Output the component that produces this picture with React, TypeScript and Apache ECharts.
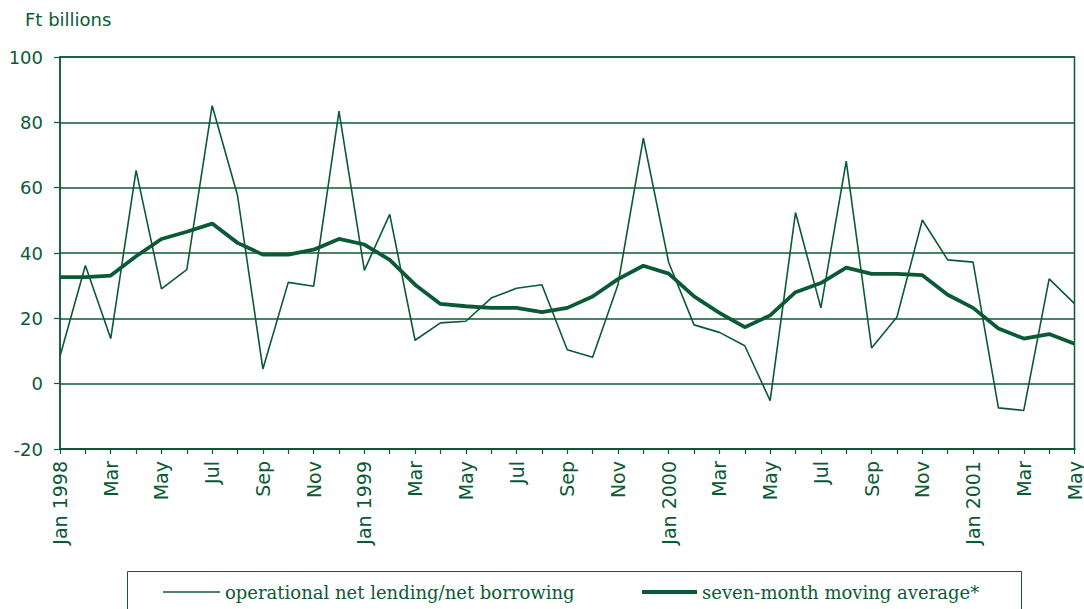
import React, { useEffect, useRef } from "react";
import * as echarts from "echarts";

const months: string[] = [
  "Jan 1998", "Feb 1998", "Mar 1998", "Apr 1998", "May 1998", "Jun 1998", "Jul 1998", "Aug 1998", "Sep 1998", "Oct 1998", "Nov 1998", "Dec 1998",
  "Jan 1999", "Feb 1999", "Mar 1999", "Apr 1999", "May 1999", "Jun 1999", "Jul 1999", "Aug 1999", "Sep 1999", "Oct 1999", "Nov 1999", "Dec 1999",
  "Jan 2000", "Feb 2000", "Mar 2000", "Apr 2000", "May 2000", "Jun 2000", "Jul 2000", "Aug 2000", "Sep 2000", "Oct 2000", "Nov 2000", "Dec 2000",
  "Jan 2001", "Feb 2001", "Mar 2001", "Apr 2001", "May 2001",
];

const operational: number[] = [
  8.4, 36.2, 13.8, 65.3, 29.0, 34.9, 85.1, 57.6, 4.5, 31.0, 29.8, 83.4,
  34.7, 51.8, 13.3, 18.6, 19.1, 26.2, 29.2, 30.3, 10.4, 8.1, 30.3, 75.2,
  37.1, 18.0, 15.7, 11.6, -5.2, 52.4, 23.2, 68.1, 10.9, 20.4, 50.1, 37.9,
  37.2, -7.4, -8.2, 32.1, 24.5,
];

const movingAverage: number[] = [
  32.6, 32.6, 33.1, 39.0, 44.3, 46.5, 49.0, 43.1, 39.5, 39.5, 41.0, 44.3,
  42.6, 37.9, 30.3, 24.4, 23.7, 23.2, 23.2, 21.9, 23.2, 26.7, 32.0, 36.1,
  33.7, 26.7, 21.7, 17.3, 20.9, 28.0, 30.8, 35.5, 33.6, 33.6, 33.2, 27.2,
  23.2, 16.9, 13.8, 15.2, 12.2,
];

const seriesNames: string[] = [
  "operational net lending/net borrowing",
  "seven-month moving average*",
];

const unitLabel = "Ft billions";

const GREEN = "#0b5a36";

export default function App() {
  const ref = useRef<HTMLDivElement>(null);

  useEffect(() => {
    if (!ref.current) return;
    const chart = echarts.init(ref.current, undefined, { renderer: "svg" });
    const sans = "DejaVu Sans";
    const serif = "DejaVu Serif";
    chart.setOption({
      animation: false,
      backgroundColor: "#ffffff",
      grid: {
        left: 60,
        top: 57,
        width: 1017,
        height: 392,
        show: true,
        borderColor: GREEN,
        borderWidth: 1.5,
        containLabel: false,
      },
      xAxis: {
        type: "category",
        data: months,
        boundaryGap: false,
        axisLine: { show: true, onZero: false, lineStyle: { color: GREEN, width: 2.2 } },
        axisTick: {
          show: true,
          interval: 0,
          length: 5,
          lineStyle: { color: GREEN, width: 1.2 },
        },
        axisLabel: {
          interval: 1,
          rotate: 90,
          margin: 12,
          color: GREEN,
          fontFamily: sans,
          fontSize: 19,
          formatter: (v: string) => (v.startsWith("Jan") ? v : v.slice(0, 3)),
        },
        splitLine: { show: false },
      },
      yAxis: {
        type: "value",
        min: -20,
        max: 100,
        interval: 20,
        axisLine: { show: true, lineStyle: { color: GREEN, width: 1.5 } },
        axisTick: { show: true, length: 6, lineStyle: { color: GREEN, width: 1.2 } },
        axisLabel: {
          margin: 17,
          color: GREEN,
          fontFamily: sans,
          fontSize: 18,
        },
        splitLine: { show: true, lineStyle: { color: GREEN, width: 1.5 } },
      },
      legend: [
        {
          data: [{ name: seriesNames[0], icon: "rect" }],
          left: 163,
          top: 583,
          padding: 0,
          itemWidth: 57,
          itemHeight: 1.6,
          textStyle: { color: GREEN, fontFamily: serif, fontSize: 18 },
        },
        {
          data: [{ name: seriesNames[1], icon: "rect" }],
          left: 642,
          top: 583,
          padding: 0,
          itemWidth: 55,
          itemHeight: 4,
          textStyle: { color: GREEN, fontFamily: serif, fontSize: 18 },
        },
      ],
      graphic: [
        {
          type: "text",
          left: 25,
          top: 10,
          style: {
            text: unitLabel,
            fill: GREEN,
            font: `18px "${sans}"`,
          },
        },
        {
          type: "rect",
          shape: { x: 127.5, y: 571.5, width: 894, height: 60 },
          style: { fill: "none", stroke: GREEN, lineWidth: 1 },
          silent: true,
        },
      ],
      series: [
        {
          name: seriesNames[0],
          type: "line",
          data: operational,
          symbol: "none",
          lineStyle: { color: GREEN, width: 1.6 },
          itemStyle: { color: GREEN },
          z: 2,
        },
        {
          name: seriesNames[1],
          type: "line",
          data: movingAverage,
          symbol: "none",
          lineStyle: { color: GREEN, width: 3.8 },
          itemStyle: { color: GREEN },
          z: 3,
        },
      ],
    });
    return () => chart.dispose();
  }, []);

  return (
    <div
      ref={ref}
      style={{ position: "fixed", left: 0, top: 0, width: 1084, height: 609 }}
    />
  );
}
